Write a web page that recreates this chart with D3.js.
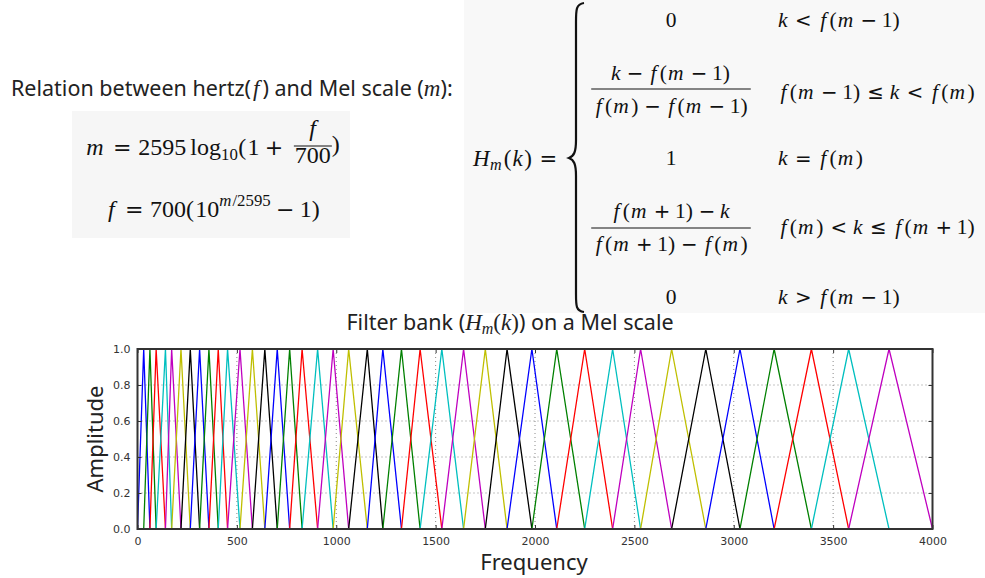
<!DOCTYPE html>
<html>
<head>
<meta charset="utf-8">
<script src="https://cdn.jsdelivr.net/npm/d3@7"></script>
<style>
  html, body { margin: 0; padding: 0; background: #ffffff; }
  svg { display: block; }
  text { white-space: pre; }
</style>
</head>
<body>
<svg id="fig" width="985" height="578"></svg>
<script>
// Corner frequencies (Hz) of the triangular filters: filter m rises from
// edge m-1, peaks at edge m and falls back to zero at edge m+1.
const filterEdgesHz = [
  0, 31.25, 62.5, 93.75, 140.625, 171.875, 218.75, 265.625, 312.5, 359.375,
  406.25, 453.125, 515.625, 578.125, 640.625, 703.125, 765.625, 828.125, 906.25, 984.375,
  1062.5, 1156.25, 1234.375, 1328.125, 1421.875, 1531.25, 1640.625, 1750, 1859.375, 1984.375,
  2109.375, 2250, 2390.625, 2531.25, 2687.5, 2859.375, 3031.25, 3203.125, 3390.625, 3578.125,
  3781.25, 4000
];
// Amplitude at the three corners of every triangle
const cornerAmplitudes = [0, 1, 0];
// Colour cycle of the filter lines
const lineColors = ["#0000ff", "#008000", "#ff0000", "#00bfbf", "#bf00bf", "#bfbf00", "#000000"];
// Axis ticks
const xTickValues = [0, 500, 1000, 1500, 2000, 2500, 3000, 3500, 4000];
const yTickValues = [0, 0.2, 0.4, 0.6, 0.8, 1.0];
const yTickLabels = ["0.0", "0.2", "0.4", "0.6", "0.8", "1.0"];
const xDomain = [0, 4000];
const yDomain = [0, 1];

const svg = d3.select("#fig");
const SANS = "'Noto Sans', 'Open Sans', sans-serif";
const SERIF = "'Liberation Serif', 'DejaVu Serif', serif";
const OPS = "'DejaVu Sans', sans-serif";

// ---------- small math typesetting helper ----------
const REL = "=<>≤≥", BIN = "−+";
// extra advance (em) for italic letters, to get roomier math-italic spacing
const LETTER_PAD = { f: [0.12, 0.15], m: [0, 0.12], k: [0, 0.07], H: [0, 0.04] };
// Turn a formula string into parts: italic letters, upright runs, spaced operators.
function M(str) {
  const parts = [];
  let run = "";
  const flush = () => { if (run) { parts.push({ t: run }); run = ""; } };
  for (const ch of str) {
    if (ch === " ") continue;
    if (/[A-Za-z]/.test(ch)) {
      flush();
      const pad = LETTER_PAD[ch] || [0, 0];
      parts.push({ t: ch, i: true, pre: pad[0], gap: pad[1] });
    } else if (REL.includes(ch) || BIN.includes(ch)) {
      flush();
      const g = REL.includes(ch) ? 0.28 : 0.22;
      parts.push({ t: ch, op: true, pre: g, gap: g });
    } else if (ch === "(" || ch === ")") {
      run += ch; flush(); parts[parts.length - 1].gap = 0.05;
    } else {
      run += ch;
    }
  }
  flush();
  return parts;
}
// Lay parts out left to right from (0, 0); returns the total width.
function layout(g, parts, fs) {
  let cx = 0;
  parts.forEach(p => {
    if (p.num) {
      const ng = g.append("g"), dg = g.append("g");
      const wn = layout(ng, p.num, fs), wd = layout(dg, p.den, fs);
      const pad = p.pad == null ? 2 : p.pad;
      cx += (p.pre || 0) * fs;
      const w = Math.max(wn, wd) + 2 * pad;
      ng.attr("transform", `translate(${cx + (w - wn) / 2},${p.ny})`);
      dg.attr("transform", `translate(${cx + (w - wd) / 2},${p.dny})`);
      g.append("line").attr("x1", cx).attr("x2", cx + w)
        .attr("y1", p.ly).attr("y2", p.ly)
        .attr("stroke", "#111").attr("stroke-width", 1);
      cx += w + (p.gap || 0) * fs;
    } else {
      const s = p.s || 1;
      cx += (p.pre || 0) * fs * s;
      const t = g.append("text")
        .attr("x", cx).attr("y", p.dy || 0)
        .attr("font-family", p.op ? OPS : SERIF)
        .attr("font-size", fs * s * (p.op ? 0.92 : 1))
        .attr("font-style", p.i ? "italic" : "normal")
        .attr("fill", "#111")
        .text(p.t);
      cx += t.node().getComputedTextLength() + (p.gap || 0) * fs * s;
    }
  });
  return cx;
}
function mathRow(parent, x, y, parts, fs, anchor) {
  const g = parent.append("g");
  const w = layout(g, parts, fs);
  const x0 = anchor === "middle" ? x - w / 2 : x;
  g.attr("transform", `translate(${x0},${y})`);
  return g;
}

// ---------- formula panels ----------
svg.append("rect").attr("x", 72).attr("y", 111).attr("width", 278).attr("height", 127).attr("fill", "#f6f6f6");
svg.append("rect").attr("x", 464).attr("y", 0).attr("width", 521).attr("height", 313).attr("fill", "#f8f8f8");

// Heading of the hertz / Mel relation
const rel = svg.append("text").attr("x", 11).attr("y", 96)
  .attr("font-family", SANS).attr("font-size", 21.5).attr("fill", "#222");
rel.append("tspan").text("Relation between hertz(");
rel.append("tspan").attr("font-family", SERIF).attr("font-style", "italic").attr("font-size", 23).attr("dx", 2).text("f");
rel.append("tspan").attr("dx", 3).text(") and Mel scale (");
rel.append("tspan").attr("font-family", SERIF).attr("font-style", "italic").attr("font-size", 23).text("m");
rel.append("tspan").text("):");

// m = 2595 log10(1 + f/700)
mathRow(svg, 213, 155, [
  ...M("m = 2595"),
  { t: "log", pre: 0.17 },
  { t: "10", s: 0.7, dy: 5, gap: 0.03 },
  ...M("(1 +"),
  { num: M("f"), den: M("700"), ny: -19, dny: 8, ly: -9, pad: 1, pre: 0.22 },
  { t: ")", dy: -3 }
], 24, "middle");

// f = 700(10^(m/2595) - 1)
mathRow(svg, 213, 217, [
  ...M("f = 700(10"),
  { t: "m", i: true, s: 0.7, dy: -11, gap: 0.06 },
  { t: "/2595", s: 0.7, dy: -11 },
  ...M("− 1)")
], 24, "middle");

// Piecewise definition of the triangular filter
const FS = 21.5;
mathRow(svg, 473, 166, [
  { t: "H", i: true, gap: 0.02 }, { t: "m", i: true, s: 0.7, dy: 4, gap: 0.12 }, ...M("(k) =")
], 23, "start");

// curly brace
svg.append("path")
  .attr("d", "M584,3 C576,4 576,10 576,22 L576,140 C576,152 574,156 569,158 C574,160 576,164 576,176 L576,294 C576,306 576,311 584,312")
  .attr("fill", "none").attr("stroke", "#111").attr("stroke-width", 2.2);

const VX = 671, CX = 778;
mathRow(svg, VX, 27, M("0"), FS, "middle");
mathRow(svg, CX, 27, M("k < f(m − 1)"), FS, "start");

mathRow(svg, VX, 89, [
  { num: M("k − f(m − 1)"), den: M("f(m) − f(m − 1)"), ny: -9, dny: 24, ly: 0, pad: 2 }
], FS, "middle");
mathRow(svg, CX, 99, M("f(m − 1) ≤ k < f(m)"), FS, "start");

mathRow(svg, VX, 165, M("1"), FS, "middle");
mathRow(svg, CX, 165, M("k = f(m)"), FS, "start");

mathRow(svg, VX, 228, [
  { num: M("f(m + 1) − k"), den: M("f(m + 1) − f(m)"), ny: -10, dny: 23, ly: 0, pad: 2 }
], FS, "middle");
mathRow(svg, CX, 234, M("f(m) < k ≤ f(m + 1)"), FS, "start");

mathRow(svg, VX, 304, M("0"), FS, "middle");
mathRow(svg, CX, 304, M("k > f(m − 1)"), FS, "start");

// ---------- filter bank chart ----------
const plot = { left: 137.5, right: 932.5, top: 349, bottom: 529 };
const x = d3.scaleLinear().domain(xDomain).range([plot.left, plot.right]);
const y = d3.scaleLinear().domain(yDomain).range([plot.bottom, plot.top]);

// Title
const title = svg.append("text").attr("x", 510).attr("y", 330)
  .attr("text-anchor", "middle").attr("font-family", SANS).attr("font-size", 21.5).attr("fill", "#222");
title.append("tspan").text("Filter bank (");
title.append("tspan").attr("font-family", SERIF).attr("font-style", "italic").attr("font-size", 23).text("H");
title.append("tspan").attr("font-family", SERIF).attr("font-style", "italic").attr("font-size", 16).attr("dy", 4).text("m");
title.append("tspan").attr("font-family", SERIF).attr("font-size", 23).attr("dy", -4).text("(");
title.append("tspan").attr("font-family", SERIF).attr("font-style", "italic").attr("font-size", 23).text("k");
title.append("tspan").attr("font-family", SERIF).attr("font-size", 23).text(")");
title.append("tspan").text(") on a Mel scale");

svg.append("clipPath").attr("id", "plotClip").append("rect")
  .attr("x", plot.left).attr("y", plot.top - 1)
  .attr("width", plot.right - plot.left).attr("height", plot.bottom - plot.top + 2);

// Dotted grid
const grid = svg.append("g").attr("stroke", "#8a8a8a").attr("stroke-width", 1).attr("stroke-dasharray", "1,3");
grid.selectAll("line.v").data(xTickValues.slice(1, -1)).join("line").attr("class", "v")
  .attr("x1", d => x(d)).attr("x2", d => x(d)).attr("y1", plot.top).attr("y2", plot.bottom);
grid.selectAll("line.h").data(yTickValues.slice(1, -1)).join("line").attr("class", "h")
  .attr("x1", plot.left).attr("x2", plot.right).attr("y1", d => y(d)).attr("y2", d => y(d));

// Triangular filters
const filters = d3.range(1, filterEdgesHz.length - 1).map(m =>
  cornerAmplitudes.map((a, j) => [filterEdgesHz[m - 1 + j], a]));
const line = d3.line().x(d => x(d[0])).y(d => y(d[1]));
svg.append("g").attr("clip-path", "url(#plotClip)")
  .selectAll("path").data(filters).join("path")
  .attr("d", line)
  .attr("fill", "none")
  .attr("stroke", (d, i) => lineColors[i % lineColors.length])
  .attr("stroke-width", 1.3)
  .attr("stroke-linejoin", "miter");

// Axes with inward ticks on all four sides
function styleAxis(g, labels) {
  g.select(".domain").remove();
  g.selectAll(".tick line").attr("stroke", "#333").attr("stroke-width", 1);
  g.selectAll(".tick text").attr("fill", "#333").attr("font-family", "'DejaVu Sans', sans-serif").attr("font-size", 11);
  if (!labels) g.selectAll(".tick text").remove();
}
svg.append("g").attr("transform", `translate(0,${plot.bottom})`)
  .call(d3.axisBottom(x).tickValues(xTickValues).tickFormat(d3.format("d")).tickSize(-4).tickPadding(8))
  .call(g => styleAxis(g, true));
svg.append("g").attr("transform", `translate(0,${plot.top})`)
  .call(d3.axisTop(x).tickValues(xTickValues).tickSize(-4))
  .call(g => styleAxis(g, false));
svg.append("g").attr("transform", `translate(${plot.left},0)`)
  .call(d3.axisLeft(y).tickValues(yTickValues).tickFormat((d, i) => yTickLabels[i]).tickSize(-4).tickPadding(7))
  .call(g => styleAxis(g, true));
svg.append("g").attr("transform", `translate(${plot.right},0)`)
  .call(d3.axisRight(y).tickValues(yTickValues).tickSize(-4))
  .call(g => styleAxis(g, false));

// Frame
svg.append("rect")
  .attr("x", plot.left).attr("y", plot.top)
  .attr("width", plot.right - plot.left).attr("height", plot.bottom - plot.top)
  .attr("fill", "none").attr("stroke", "#333").attr("stroke-width", 2);

// Axis titles
svg.append("text").attr("x", 534).attr("y", 570)
  .attr("text-anchor", "middle").attr("font-family", SANS).attr("font-size", 22).attr("fill", "#222")
  .text("Frequency");
svg.append("text").attr("transform", `translate(103,${(plot.top + plot.bottom) / 2}) rotate(-90)`)
  .attr("text-anchor", "middle").attr("font-family", SANS).attr("font-size", 22).attr("fill", "#222")
  .text("Amplitude");
</script>
</body>
</html>
